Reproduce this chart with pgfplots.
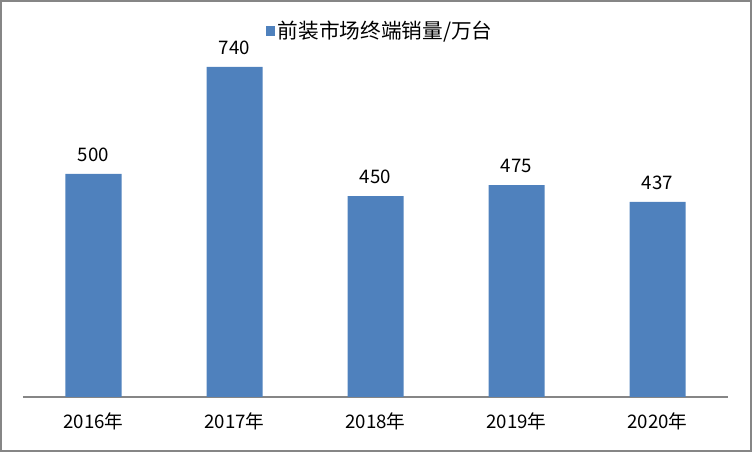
\documentclass[border=0pt]{standalone}
\usepackage{pgfplots}
\pgfplotsset{compat=1.18}
\usepackage{fontspec}
\setmainfont{Noto Sans CJK SC}
\definecolor{barblue}{HTML}{4F81BD}
\definecolor{framegray}{HTML}{868686}
\begin{document}
\begin{tikzpicture}
\useasboundingbox (0pt,0pt) rectangle (564pt,339pt);
\draw[framegray,line width=1.5pt] (0.75pt,0.75pt) rectangle (563.25pt,338.25pt);
\begin{axis}[
    at={(17.25pt,41.25pt)}, anchor=south west,
    scale only axis,
    width=528.75pt, height=267.75pt,
    xmin=-0.5, xmax=4.5,
    ymin=0, ymax=800,
    ybar, bar width=42pt,
    xtick=data,
    xticklabels={2016年,2017年,2018年,2019年,2020年},
    ytick=\empty,
    axis x line*=bottom,
    axis y line=none,
    x axis line style={framegray,line width=0.8pt,-},
    major tick length=0pt,
    /pgf/number format/assume math mode=true,
    xticklabel style={font=\fontsize{14}{16}\selectfont, text=black, yshift=-8pt},
    nodes near coords,
    every node near coord/.append style={font=\fontsize{14}{16}\selectfont, text=black, yshift=5.5pt},
    legend style={at={(0.507,1.025)}, anchor=center, draw=none, fill=none,
        font=\fontsize{15.5}{17}\selectfont},
    legend image code/.code={\fill[#1] (0cm,-0.12cm) rectangle (0.25cm,0.13cm);},
]
\addplot[fill=barblue, draw=none] coordinates {(0,500) (1,740) (2,450) (3,475) (4,437)};
\legend{前装市场终端销量/万台}
\end{axis}
\end{tikzpicture}
\end{document}
